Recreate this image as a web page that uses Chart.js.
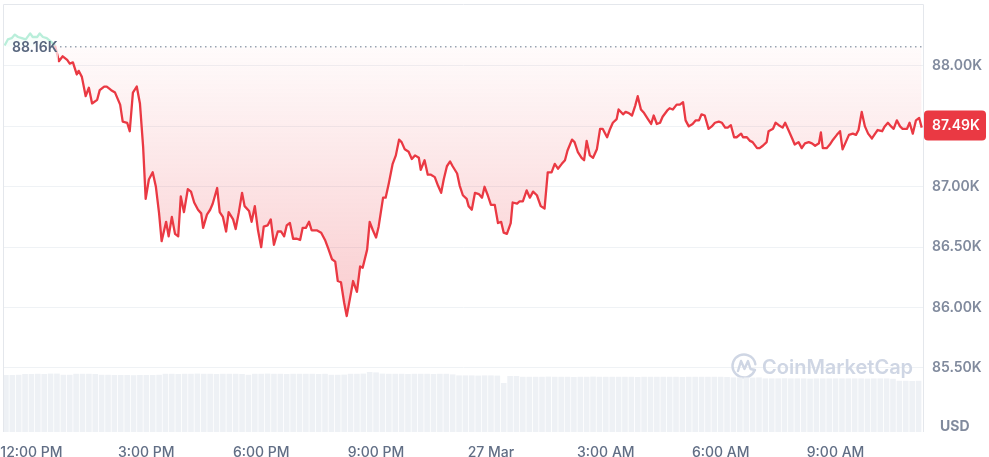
<!DOCTYPE html>
<html>
<head>
<meta charset="utf-8">
<title>BTC / USD - 24h</title>
<script src="https://cdn.jsdelivr.net/npm/chart.js@4.4.1/dist/chart.umd.min.js"></script>
<style>
  html, body { margin: 0; padding: 0; background: #fff; }
  #wrap { width: 989px; height: 457px; }
</style>
</head>
<body>
<div id="wrap"><canvas id="priceChart" width="989" height="457"></canvas></div>
<script>
// time = minutes after 12:00 PM (26 Mar), price in thousands USD
const priceTimes = [
  -42, -37, -31, -26, -21, -15, -9, -2, 2, 9,
  13, 18, 24, 31, 37, 43, 49, 56, 60, 65,
  68, 71, 74, 79, 85, 90, 95, 103, 107, 114,
  118, 125, 131, 139, 143, 150, 154, 159, 165, 170,
  175, 179, 184, 190, 195, 200, 204, 211, 215, 220,
  225, 230, 234, 239, 245, 250, 255, 261, 266, 269,
  275, 280, 284, 291, 295, 300, 305, 309, 316, 320,
  325, 330, 334, 341, 345, 350, 355, 360, 364, 370,
  375, 380, 386, 391, 396, 400, 405, 410, 416, 421,
  425, 430, 435, 439, 447, 454, 460, 465, 471, 476,
  480, 485, 490, 494, 501, 504, 510, 515, 519, 526,
  530, 535, 540, 544, 551, 555, 560, 566, 571, 576,
  580, 585, 591, 596, 601, 607, 610, 616, 621, 626,
  632, 637, 642, 646, 651, 656, 660, 667, 671, 676,
  682, 685, 690, 695, 701, 706, 710, 715, 720, 726,
  731, 736, 740, 745, 751, 754, 761, 765, 770, 776,
  781, 786, 792, 798, 804, 809, 815, 820, 825, 831,
  836, 840, 847, 851, 856, 862, 866, 870, 875, 880,
  886, 891, 895, 902, 906, 911, 917, 920, 927, 931,
  936, 941, 946, 950, 955, 960, 966, 971, 975, 980,
  985, 989, 996, 1000, 1005, 1011, 1016, 1021, 1025, 1030,
  1036, 1041, 1046, 1050, 1055, 1061, 1066, 1071, 1077, 1082,
  1087, 1091, 1096, 1101, 1105, 1112, 1115, 1121, 1126, 1130,
  1137, 1141, 1146, 1152, 1155, 1162, 1166, 1171, 1177, 1181,
  1187, 1192, 1196, 1202, 1207, 1212, 1218, 1223, 1228, 1234,
  1237, 1240, 1246, 1251, 1256, 1262, 1267, 1271, 1276, 1281,
  1287, 1292, 1296, 1301, 1306, 1311, 1317, 1322, 1326, 1333,
  1337, 1342, 1347, 1351, 1356, 1361, 1365, 1372, 1376, 1381,
  1386, 1391, 1395
];
const prices = [
  88.17, 88.22, 88.23, 88.26, 88.24, 88.23, 88.22, 88.27, 88.24, 88.24,
  88.27, 88.24, 88.23, 88.20, 88.17, 88.04, 88.08, 88.05, 88.02, 88.03,
  87.98, 87.93, 87.96, 87.91, 87.75, 87.82, 87.69, 87.72, 87.80, 87.83,
  87.83, 87.80, 87.78, 87.68, 87.54, 87.53, 87.46, 87.78, 87.83, 87.69,
  87.33, 86.90, 87.06, 87.12, 87.00, 86.78, 86.55, 86.71, 86.59, 86.75,
  86.61, 86.59, 86.92, 86.79, 86.98, 86.96, 86.87, 86.81, 86.78, 86.66,
  86.77, 86.81, 86.86, 86.99, 86.79, 86.75, 86.63, 86.79, 86.73, 86.65,
  86.79, 86.95, 86.84, 86.80, 86.71, 86.84, 86.64, 86.50, 86.67, 86.68,
  86.73, 86.52, 86.63, 86.63, 86.59, 86.68, 86.70, 86.57, 86.57, 86.56,
  86.66, 86.66, 86.71, 86.64, 86.64, 86.62, 86.56, 86.49, 86.40, 86.38,
  86.22, 86.21, 86.04, 85.93, 86.13, 86.22, 86.13, 86.34, 86.33, 86.48,
  86.71, 86.64, 86.58, 86.67, 86.91, 86.91, 87.03, 87.19, 87.26, 87.39,
  87.37, 87.31, 87.29, 87.23, 87.26, 87.24, 87.14, 87.22, 87.10, 87.10,
  87.08, 87.01, 86.95, 87.06, 87.17, 87.21, 87.17, 87.11, 87.01, 86.93,
  86.90, 86.84, 86.81, 86.95, 86.94, 86.91, 87.00, 86.93, 86.85, 86.85,
  86.70, 86.71, 86.62, 86.61, 86.70, 86.87, 86.86, 86.88, 86.88, 86.97,
  86.91, 86.96, 86.93, 86.84, 86.82, 87.12, 87.12, 87.19, 87.15, 87.19,
  87.22, 87.30, 87.39, 87.37, 87.29, 87.24, 87.22, 87.38, 87.26, 87.24,
  87.31, 87.48, 87.48, 87.41, 87.47, 87.53, 87.56, 87.64, 87.60, 87.62,
  87.61, 87.59, 87.67, 87.75, 87.64, 87.61, 87.56, 87.52, 87.59, 87.52,
  87.53, 87.58, 87.63, 87.65, 87.64, 87.68, 87.68, 87.70, 87.55, 87.50,
  87.52, 87.55, 87.55, 87.60, 87.59, 87.48, 87.50, 87.53, 87.54, 87.53,
  87.49, 87.49, 87.51, 87.41, 87.41, 87.44, 87.41, 87.41, 87.38, 87.37,
  87.32, 87.32, 87.34, 87.37, 87.46, 87.48, 87.53, 87.51, 87.49, 87.53,
  87.46, 87.40, 87.35, 87.37, 87.32, 87.36, 87.37, 87.36, 87.34, 87.36,
  87.45, 87.32, 87.32, 87.35, 87.39, 87.43, 87.46, 87.31, 87.37, 87.43,
  87.44, 87.43, 87.47, 87.62, 87.50, 87.44, 87.40, 87.44, 87.47, 87.46,
  87.50, 87.53, 87.50, 87.48, 87.55, 87.50, 87.48, 87.48, 87.53, 87.44,
  87.55, 87.57, 87.49
];
const openPrice = 88.16;

// 24h volume (billions USD), one bar every 10 min starting at -40 min
const volStart = -40;
const volStep = 10;
const volumes = [
  28.5, 28.5, 28.6, 29.0, 29.0, 29.1, 29.0, 29.2, 29.2, 28.6, 28.6, 29.1,
  29.1, 29.1, 29.0, 28.6, 28.6, 28.5, 28.5, 28.5, 28.4, 28.5, 28.5, 28.5,
  28.6, 29.1, 29.1, 29.0, 29.1, 29.1, 29.2, 29.1, 29.1, 29.0, 29.1, 29.1,
  29.1, 29.0, 28.6, 29.1, 29.1, 29.2, 29.1, 29.1, 29.0, 29.1, 29.1, 29.1,
  29.1, 29.0, 29.1, 28.6, 28.6, 28.7, 29.1, 29.1, 29.2, 30.0, 29.8, 29.2,
  29.1, 29.1, 29.1, 29.0, 29.1, 29.1, 29.1, 29.0, 29.1, 29.1, 28.8, 28.3,
  28.3, 28.3, 28.2, 28.3, 28.3, 28.2, 24.5, 28.0, 28.0, 27.6, 27.6, 27.6,
  27.6, 27.7, 27.6, 27.6, 27.6, 27.5, 27.6, 27.6, 27.7, 27.6, 27.6, 27.6,
  27.6, 27.6, 27.6, 27.5, 27.6, 27.6, 27.6, 27.6, 27.6, 27.6, 27.5, 27.6,
  27.6, 27.6, 27.6, 27.6, 27.6, 27.5, 27.3, 27.3, 27.3, 27.2, 27.3, 26.8,
  26.8, 26.8, 26.9, 26.8, 26.8, 26.8, 26.7, 26.8, 26.8, 26.8, 26.8, 26.8,
  26.8, 26.8, 26.8, 26.7, 26.8, 26.8, 26.8, 26.6, 25.6, 25.6, 25.5, 25.6
];

const xTickTimes = [0, 180, 360, 540, 720, 900, 1080, 1260];
const xTickLabels = ['12:00 PM', '3:00 PM', '6:00 PM', '9:00 PM', '27 Mar', '3:00 AM', '6:00 AM', '9:00 AM'];
const yTicks = [85.5, 86, 86.5, 87, 87.5, 88];

const RED = '#ea3943';
const GREEN = '#16c784';

Chart.defaults.font.family = 'Inter, "Noto Sans", sans-serif';

const pricePoints = priceTimes.map((t, i) => ({ x: t, y: prices[i] }));
const volPoints = volumes.map((v, i) => ({ x: volStart + i * volStep, y: v }));

// keep the plot area where the card puts it, labels may overhang
function noOverhang(s) {
  s.paddingLeft = 0;
  s.paddingRight = 0;
  s.paddingTop = 0;
  s.paddingBottom = 0;
}

const decor = {
  id: 'decor',
  beforeDatasetsDraw(chart) {
    const { ctx, chartArea: a } = chart;
    ctx.save();
    // card edge
    ctx.strokeStyle = '#e4e7ec';
    ctx.lineWidth = 1;
    ctx.beginPath();
    ctx.moveTo(a.left - 0.5, a.bottom);
    ctx.lineTo(a.left - 0.5, a.top - 0.5);
    ctx.lineTo(a.right + 0.5, a.top - 0.5);
    ctx.lineTo(a.right + 0.5, a.bottom);
    ctx.stroke();

    // watermark
    const cx = a.right - 179, cy = a.bottom - 66;
    ctx.strokeStyle = '#cfd6e4';
    ctx.lineWidth = 2.4;
    ctx.lineCap = 'round';
    ctx.lineJoin = 'round';
    ctx.beginPath();
    ctx.arc(cx, cy, 11.5, 0.12 * Math.PI, 1.95 * Math.PI);
    ctx.stroke();
    ctx.beginPath();
    ctx.moveTo(cx - 6, cy + 5);
    ctx.lineTo(cx - 3, cy - 5);
    ctx.lineTo(cx + 0.5, cy + 3);
    ctx.lineTo(cx + 4, cy - 5);
    ctx.lineTo(cx + 6.5, cy + 3);
    ctx.lineTo(cx + 11, cy + 4);
    ctx.stroke();
    ctx.fillStyle = '#cfd6e4';
    ctx.font = '600 20px Inter';
    ctx.textBaseline = 'alphabetic';
    ctx.fillText('CoinMarketCap', a.right - 161, a.bottom - 58);
    ctx.restore();
  },
  afterDatasetsDraw(chart) {
    const { ctx, chartArea: a, scales } = chart;
    const yo = scales.y.getPixelForValue(openPrice);
    ctx.save();
    // open price marker
    ctx.fillStyle = 'rgba(255,255,255,0.7)';
    ctx.fillRect(a.left, yo - 17, 54, 32);
    ctx.setLineDash([1.5, 3.5]);
    ctx.strokeStyle = '#9aa3b2';
    ctx.lineWidth = 1.5;
    ctx.beginPath();
    ctx.moveTo(a.left + 56, yo);
    ctx.lineTo(a.right, yo);
    ctx.stroke();
    ctx.setLineDash([]);
    ctx.fillStyle = '#58667e';
    ctx.font = '600 14px Inter';
    ctx.textBaseline = 'middle';
    ctx.fillText(openPrice.toFixed(2) + 'K', a.left + 8, yo + 1.5);

    // last price badge
    const last = prices[prices.length - 1];
    const yl = scales.y.getPixelForValue(last) - 2;
    ctx.fillStyle = RED;
    ctx.beginPath();
    ctx.roundRect(a.right + 1, yl - 15, 62, 30, 4);
    ctx.fill();
    ctx.fillStyle = '#fff';
    ctx.font = '600 14px Inter';
    ctx.fillText(last.toFixed(2) + 'K', a.right + 9, yl + 0.5);

    ctx.fillStyle = '#808a9d';
    ctx.font = '700 14px Inter';
    ctx.fillText('USD', a.right + 17, a.bottom - 5);
    ctx.restore();
  }
};

const ctx = document.getElementById('priceChart').getContext('2d');
new Chart(ctx, {
  type: 'line',
  data: {
    datasets: [
      {
        type: 'line',
        data: pricePoints,
        yAxisID: 'y',
        order: 0,
        borderColor: RED,
        borderWidth: 2.3,
        borderJoinStyle: 'round',
        pointRadius: 0,
        tension: 0,
        segment: {
          borderColor: c => (c.p0.parsed.y >= openPrice && c.p1.parsed.y >= openPrice) ? GREEN : RED
        },
        fill: { target: { value: openPrice }, above: 'rgba(22,199,132,0.1)' },
        backgroundColor: c => {
          const { chartArea, scales } = c.chart;
          if (!chartArea) return 'rgba(234,57,67,0.1)';
          const y0 = scales.y.getPixelForValue(openPrice);
          const y1 = scales.y.getPixelForValue(Math.min(...prices));
          const g = c.chart.ctx.createLinearGradient(0, y0, 0, y1);
          g.addColorStop(0, 'rgba(234,57,67,0.02)');
          g.addColorStop(1, 'rgba(234,57,67,0.26)');
          return g;
        }
      },
      {
        type: 'bar',
        data: volPoints,
        yAxisID: 'yv',
        order: 1,
        backgroundColor: '#eef1f5',
        categoryPercentage: 1,
        barPercentage: 0.88
      }
    ]
  },
  options: {
    responsive: false,
    animation: false,
    devicePixelRatio: 1,
    layout: { padding: { left: 4, top: 5, right: 0, bottom: 0 } },
    plugins: { legend: { display: false }, tooltip: { enabled: false } },
    scales: {
      x: {
        type: 'linear',
        min: -43,
        max: 1397,
        offset: false,
        grid: { display: false, drawTicks: false },
        border: { display: false },
        afterBuildTicks: s => { s.ticks = xTickTimes.map(v => ({ value: v })); },
        afterFit: s => { s.height = 25; noOverhang(s); },
        ticks: {
          autoSkip: false,
          maxRotation: 0,
          padding: 12,
          color: '#616e85',
          font: { size: 14, weight: '500' },
          callback: (v, i) => xTickLabels[i]
        }
      },
      y: {
        position: 'right',
        min: 84.97,
        max: 88.505,
        afterBuildTicks: s => { s.ticks = yTicks.map(v => ({ value: v })); },
        afterFit: s => { s.width = 66; noOverhang(s); },
        grid: { color: '#eff2f5', drawTicks: false },
        border: { display: false },
        ticks: {
          padding: 9,
          crossAlign: 'near',
          color: '#808a9d',
          font: { size: 14, weight: '600' },
          callback: v => v.toFixed(2) + 'K'
        }
      },
      yv: { display: false, min: 0, max: 213.5, afterFit: noOverhang }
    }
  },
  plugins: [decor]
});
</script>
</body>
</html>
